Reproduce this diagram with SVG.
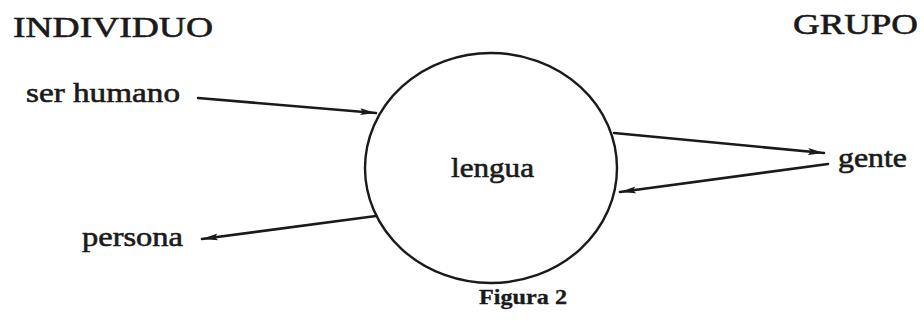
<svg xmlns="http://www.w3.org/2000/svg" width="924" height="321" viewBox="0 0 924 321">
<defs>
<style>
.t{font-family:"Liberation Serif","Times New Roman",serif;fill:#1a1a1a;stroke:#1a1a1a;stroke-width:0.6}
.h{font-size:30px}
.l{font-size:28px}
.f{font-size:21px;font-weight:bold;stroke-width:0.3}
.c{stroke:#1a1a1a;stroke-width:2.6;fill:none;stroke-linecap:round}
</style>
<marker id="ah" markerUnits="userSpaceOnUse" markerWidth="18" markerHeight="10" refX="16" refY="5" orient="auto">
<path d="M0,1.5 L16,5 L0,8.5 L3,5 Z" fill="#1a1a1a"/>
</marker>
</defs>
<rect width="924" height="321" fill="#fff"/>
<g id="titulo-individuo"><text class="t h" x="13" y="37" textLength="200" lengthAdjust="spacingAndGlyphs">INDIVIDUO</text></g>
<g id="titulo-grupo"><text class="t h" x="793" y="34" textLength="125" lengthAdjust="spacingAndGlyphs">GRUPO</text></g>
<g id="lengua">
<ellipse cx="491" cy="168" rx="126" ry="115" fill="none" stroke="#1a1a1a" stroke-width="2.4"/>
<text class="t l" x="451" y="177" textLength="83" lengthAdjust="spacingAndGlyphs">lengua</text>
</g>
<g id="ser-humano"><text class="t l" x="26" y="102" textLength="154" lengthAdjust="spacingAndGlyphs">ser humano</text></g>
<g id="persona"><text class="t l" x="82" y="246" textLength="101" lengthAdjust="spacingAndGlyphs">persona</text></g>
<g id="gente"><text class="t l" x="838" y="167" textLength="69" lengthAdjust="spacingAndGlyphs">gente</text></g>
<g id="caption"><text class="t f" x="479" y="304" textLength="88" lengthAdjust="spacingAndGlyphs">Figura 2</text></g>
<g id="connectors">
<line class="c" x1="198" y1="98" x2="376" y2="113" marker-end="url(#ah)"/>
<line class="c" x1="376" y1="216" x2="202" y2="239" marker-end="url(#ah)"/>
<line class="c" x1="614" y1="133" x2="824" y2="153" marker-end="url(#ah)"/>
<line class="c" x1="828" y1="164" x2="620" y2="192" marker-end="url(#ah)"/>
</g>
</svg>
